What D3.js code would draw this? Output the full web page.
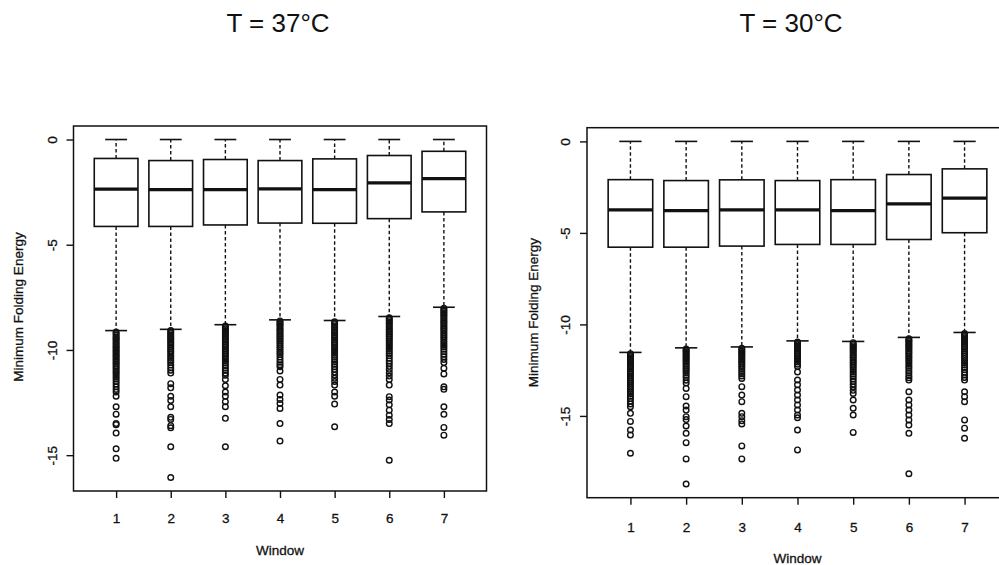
<!DOCTYPE html>
<html>
<head>
<meta charset="utf-8">
<title>Minimum folding energy by window</title>
<script src="https://d3js.org/d3.v7.min.js"></script>
<style>
  body { margin: 0; background: #fff; }
  svg { display: block; font-family: "Liberation Sans", Arial, sans-serif; }
  .frame { fill: none; stroke: #111; stroke-width: 1.5px; }
  .box { fill: none; stroke: #111; stroke-width: 1.6px; }
  .median { stroke: #111; stroke-width: 3.2px; }
  .whisker { stroke: #111; stroke-width: 1.4px; stroke-dasharray: 3.5,2.5; }
  .staple { stroke: #111; stroke-width: 1.6px; }
  .out { fill: none; stroke: #111; stroke-width: 1.4px; }
  .axis path, .axis line { stroke: #111; stroke-width: 1.4px; }
  .axis text, .lab { font-size: 13.5px; fill: #111; stroke: #111; stroke-width: 0.3px; }
</style>
</head>
<body>
<svg id="chart" width="999" height="565"></svg>
<script>

// ---- data ----
var windows = [1, 2, 3, 4, 5, 6, 7];
var yTicks = [0, -5, -10, -15];

// T = 37°C
var t37Upper  = [0, 0, 0, 0, 0, 0, 0];
var t37Q3     = [-0.90, -1.00, -0.95, -1.00, -0.92, -0.76, -0.56];
var t37Median = [-2.36, -2.38, -2.38, -2.35, -2.38, -2.06, -1.86];
var t37Q1     = [-4.13, -4.13, -4.06, -3.97, -3.98, -3.76, -3.44];
var t37Lower  = [-9.08, -9.02, -8.80, -8.57, -8.60, -8.41, -7.97];
var t37Out = [
  [-9.15,-9.22,-9.3,-9.38,-9.45,-9.52,-9.6,-9.68,-9.75,-9.83,-9.9,-9.98,-10.05,-10.12,-10.2,-10.28,-10.35,-10.43,-10.5,-10.58,-10.66,-10.74,-10.82,-10.9,-11.0,-11.08,-11.18,-11.28,-11.38,-11.5,-11.62,-11.75,-11.88,-12.0,-12.2,-12.7,-13.05,-13.5,-13.55,-13.95,-14.7,-15.15],
  [-9.08,-9.15,-9.22,-9.3,-9.38,-9.45,-9.52,-9.6,-9.68,-9.76,-9.85,-9.93,-10.02,-10.1,-10.2,-10.3,-10.4,-10.5,-10.6,-10.72,-10.84,-10.96,-11.1,-11.6,-11.8,-12.2,-12.4,-12.7,-13.2,-13.3,-13.6,-13.7,-14.6,-16.06],
  [-8.86,-8.93,-9.0,-9.08,-9.15,-9.22,-9.3,-9.38,-9.46,-9.54,-9.62,-9.7,-9.78,-9.86,-9.95,-10.04,-10.13,-10.22,-10.32,-10.42,-10.52,-10.62,-10.74,-10.86,-10.98,-11.1,-11.2,-11.4,-11.7,-12.0,-12.2,-12.46,-12.7,-13.25,-14.6],
  [-8.62,-8.7,-8.77,-8.84,-8.92,-9.0,-9.08,-9.16,-9.24,-9.32,-9.4,-9.48,-9.56,-9.65,-9.74,-9.83,-9.92,-10.02,-10.12,-10.22,-10.34,-10.46,-10.58,-10.7,-10.8,-11.0,-11.4,-11.67,-12.14,-12.35,-12.54,-12.78,-13.5,-14.33],
  [-8.66,-8.73,-8.8,-8.88,-8.96,-9.04,-9.12,-9.2,-9.28,-9.36,-9.44,-9.52,-9.6,-9.68,-9.77,-9.86,-9.95,-10.05,-10.15,-10.25,-10.35,-10.46,-10.57,-10.68,-10.8,-10.92,-11.05,-11.2,-11.35,-11.5,-11.67,-12.0,-12.2,-12.57,-13.65],
  [-8.47,-8.54,-8.61,-8.68,-8.76,-8.84,-8.92,-9.0,-9.08,-9.16,-9.24,-9.32,-9.4,-9.49,-9.58,-9.67,-9.76,-9.86,-9.96,-10.06,-10.17,-10.28,-10.4,-10.52,-10.64,-10.78,-10.92,-11.08,-11.24,-11.4,-11.67,-12.22,-12.38,-12.6,-12.86,-13.1,-13.3,-13.5,-15.24],
  [-8.02,-8.09,-8.16,-8.23,-8.3,-8.38,-8.46,-8.54,-8.62,-8.7,-8.78,-8.86,-8.94,-9.02,-9.1,-9.19,-9.28,-9.37,-9.46,-9.56,-9.66,-9.76,-9.86,-9.97,-10.08,-10.2,-10.32,-10.45,-10.6,-10.87,-11.14,-11.75,-11.87,-12.7,-13.06,-13.68,-14.05]
];

// T = 30°C
var t30Upper  = [0, 0, 0, 0, 0, 0, 0];
var t30Q3     = [-2.09, -2.14, -2.10, -2.14, -2.09, -1.81, -1.50];
var t30Median = [-3.74, -3.78, -3.74, -3.74, -3.78, -3.41, -3.10];
var t30Q1     = [-5.78, -5.78, -5.72, -5.63, -5.63, -5.36, -4.99];
var t30Lower  = [-11.53, -11.28, -11.23, -10.90, -10.93, -10.71, -10.44];
var t30Out = [
  [-11.6,-11.68,-11.76,-11.84,-11.92,-12.0,-12.08,-12.17,-12.26,-12.35,-12.44,-12.53,-12.62,-12.72,-12.82,-12.92,-13.02,-13.12,-13.23,-13.34,-13.45,-13.56,-13.68,-13.8,-13.92,-14.05,-14.2,-14.35,-14.5,-14.86,-15.3,-15.77,-16.04,-17.04],
  [-11.34,-11.42,-11.5,-11.58,-11.66,-11.74,-11.82,-11.9,-11.98,-12.07,-12.16,-12.25,-12.35,-12.45,-12.55,-12.66,-12.78,-12.9,-13.05,-13.2,-13.5,-13.95,-14.46,-14.68,-15.04,-15.2,-15.55,-15.95,-16.46,-17.35,-18.72],
  [-11.3,-11.38,-11.46,-11.54,-11.62,-11.7,-11.78,-11.87,-11.96,-12.05,-12.14,-12.24,-12.34,-12.45,-12.57,-12.7,-12.82,-12.95,-13.4,-13.86,-14.22,-14.86,-15.04,-15.26,-15.44,-16.64,-17.35],
  [-10.96,-11.04,-11.12,-11.2,-11.28,-11.36,-11.44,-11.53,-11.62,-11.72,-11.82,-11.93,-12.05,-12.17,-12.3,-12.6,-13.04,-13.3,-13.59,-13.86,-14.13,-14.4,-14.68,-14.95,-15.1,-15.77,-16.86],
  [-11.0,-11.08,-11.16,-11.24,-11.32,-11.4,-11.48,-11.57,-11.66,-11.75,-11.84,-11.94,-12.04,-12.14,-12.25,-12.36,-12.48,-12.6,-12.72,-12.85,-12.98,-13.12,-13.27,-13.42,-13.6,-13.77,-14.13,-14.58,-14.95,-15.9],
  [-10.78,-10.86,-10.94,-11.02,-11.1,-11.18,-11.26,-11.35,-11.44,-11.53,-11.62,-11.72,-11.82,-11.93,-12.04,-12.16,-12.28,-12.4,-12.53,-12.66,-12.8,-12.92,-13.04,-13.68,-14.13,-14.4,-14.68,-14.95,-15.22,-15.5,-15.95,-18.16],
  [-10.5,-10.58,-10.66,-10.74,-10.82,-10.9,-10.98,-11.07,-11.16,-11.25,-11.34,-11.44,-11.54,-11.64,-11.75,-11.86,-11.98,-12.1,-12.22,-12.35,-12.48,-12.62,-12.76,-12.9,-13.04,-13.68,-13.95,-14.22,-15.22,-15.67,-16.22]
];

var svg = d3.select("#chart");

// R-style ranges: 4% padding around the data
function padDomain(lo, hi) {
  var p = (hi - lo) * 0.04;
  return [lo - p, hi + p];
}

function panel(opt) {
  var g = svg.append("g");
  var allVals = d3.merge(opt.out).concat(opt.upper, opt.lower);
  var x = d3.scaleLinear().domain(padDomain(0.5, 7.5)).range(opt.xr);
  var y = d3.scaleLinear().domain(padDomain(d3.min(allVals), d3.max(allVals))).range(opt.yr);
  var step = x(2) - x(1);
  var bw = step * 0.8, sw = bw * 0.5;

  var rows = windows.map(function(w, i) {
    return { w: w, up: opt.upper[i], q3: opt.q3[i], med: opt.median[i],
             q1: opt.q1[i], lo: opt.lower[i], out: opt.out[i] };
  });

  var b = g.selectAll(".bx").data(rows).enter().append("g").attr("class", "bx");

  // whiskers
  b.append("line").attr("class", "whisker")
    .attr("x1", function(d) { return x(d.w); }).attr("x2", function(d) { return x(d.w); })
    .attr("y1", function(d) { return y(d.q3); }).attr("y2", function(d) { return y(d.up); });
  b.append("line").attr("class", "whisker")
    .attr("x1", function(d) { return x(d.w); }).attr("x2", function(d) { return x(d.w); })
    .attr("y1", function(d) { return y(d.q1); }).attr("y2", function(d) { return y(d.lo); });
  // staples
  b.append("line").attr("class", "staple")
    .attr("x1", function(d) { return x(d.w) - sw / 2; }).attr("x2", function(d) { return x(d.w) + sw / 2; })
    .attr("y1", function(d) { return y(d.up); }).attr("y2", function(d) { return y(d.up); });
  b.append("line").attr("class", "staple")
    .attr("x1", function(d) { return x(d.w) - sw / 2; }).attr("x2", function(d) { return x(d.w) + sw / 2; })
    .attr("y1", function(d) { return y(d.lo); }).attr("y2", function(d) { return y(d.lo); });
  // box + median
  b.append("rect").attr("class", "box")
    .attr("x", function(d) { return x(d.w) - bw / 2; }).attr("width", bw)
    .attr("y", function(d) { return y(d.q3); })
    .attr("height", function(d) { return y(d.q1) - y(d.q3); });
  b.append("line").attr("class", "median")
    .attr("x1", function(d) { return x(d.w) - bw / 2; }).attr("x2", function(d) { return x(d.w) + bw / 2; })
    .attr("y1", function(d) { return y(d.med); }).attr("y2", function(d) { return y(d.med); });
  // outliers
  b.selectAll(".out").data(function(d) { return d.out.map(function(v) { return { w: d.w, v: v }; }); })
    .enter().append("circle").attr("class", "out")
    .attr("cx", function(d) { return x(d.w); })
    .attr("cy", function(d) { return y(d.v); })
    .attr("r", 2.8);

  // axes
  var ya = g.append("g").attr("class", "axis")
    .attr("transform", "translate(" + opt.xr[0] + ",0)")
    .call(d3.axisLeft(y).tickValues(yTicks).tickSize(7).tickSizeOuter(0).tickFormat(function(d) { return String(d); }));
  ya.select(".domain").remove();
  ya.selectAll("text")
    .attr("x", 0).attr("dy", 0)
    .attr("text-anchor", "middle")
    .attr("transform", "translate(-17,0) rotate(-90)");

  var xa = g.append("g").attr("class", "axis")
    .attr("transform", "translate(0," + opt.yr[0] + ")")
    .call(d3.axisBottom(x).tickValues(windows).tickSize(7).tickSizeOuter(0).tickFormat(d3.format("d")));
  xa.select(".domain").remove();
  xa.selectAll("text").attr("y", opt.xTickDy).attr("dy", 0);

  // frame
  g.append("rect").attr("class", "frame")
    .attr("x", opt.xr[0]).attr("y", opt.yr[1])
    .attr("width", opt.xr[1] - opt.xr[0]).attr("height", opt.yr[0] - opt.yr[1]);

  // labels
  g.append("text").attr("x", opt.titleX).attr("y", 32)
    .attr("text-anchor", "middle").style("font-size", "26px").attr("fill", "#111")
    .text(opt.title);
  g.append("text").attr("class", "lab").attr("x", (opt.xr[0] + opt.xr[1]) / 2).attr("y", opt.xlabY)
    .attr("text-anchor", "middle")
    .text("Window");
  g.append("text").attr("class", "lab")
    .attr("transform", "translate(" + opt.ylabX + "," + opt.ylabCy + ") rotate(-90)")
    .attr("text-anchor", "middle")
    .text("Minimum Folding Energy");
}

panel({ title: "T = 37°C", titleX: 278, xr: [73.5, 486.5], yr: [491, 126],
        upper: t37Upper, q3: t37Q3, median: t37Median, q1: t37Q1, lower: t37Lower, out: t37Out,
        xTickDy: 32, xlabY: 555, ylabX: 22.5, ylabCy: 307 });

panel({ title: "T = 30°C", titleX: 791, xr: [587, 1008], yr: [497.7, 127.7],
        upper: t30Upper, q3: t30Q3, median: t30Median, q1: t30Q1, lower: t30Lower, out: t30Out,
        xTickDy: 34, xlabY: 563, ylabX: 537.5, ylabCy: 312.7 });

</script>
</body>
</html>
